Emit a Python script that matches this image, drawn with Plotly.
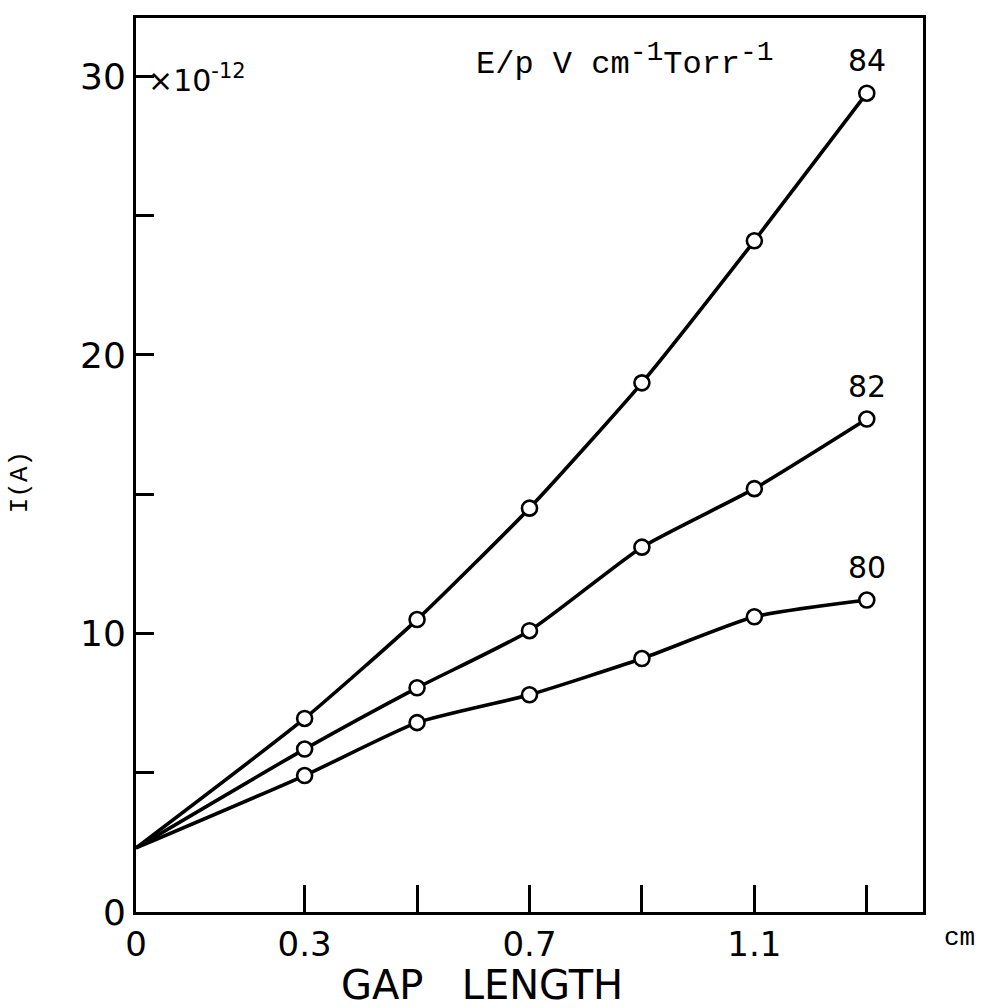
import plotly.graph_objects as go

# Data
gap_cm = [0.3, 0.5, 0.7, 0.9, 1.1, 1.3]
current_84 = [6.95, 10.5, 14.5, 19.0, 24.1, 29.4]
current_82 = [5.85, 8.05, 10.1, 13.1, 15.2, 17.7]
current_80 = [4.9, 6.8, 7.8, 9.1, 10.6, 11.2]
intercept_x = 0.0
intercept_y = 2.3
series_labels = ["84", "82", "80"]

x_tickvals = [0, 0.3, 0.5, 0.7, 0.9, 1.1, 1.3]
x_ticktext = ["0", "0.3", "", "0.7", "", "1.1", ""]
y_tickvals = [0, 5, 10, 15, 20, 25, 30]
y_ticktext = ["0", "", "10", "", "20", "", "30"]

fig = go.Figure()

all_series = [current_84, current_82, current_80]
for label, ys in zip(series_labels, all_series):
    fig.add_trace(go.Scatter(
        x=[intercept_x] + gap_cm, y=[intercept_y] + ys,
        mode="lines", line=dict(color="black", width=3.6, shape="spline", smoothing=0.55),
        showlegend=False, hoverinfo="skip"))
for label, ys in zip(series_labels, all_series):
    fig.add_trace(go.Scatter(
        x=gap_cm, y=ys, mode="markers", name=label,
        marker=dict(symbol="circle", size=15, color="white",
                    line=dict(color="black", width=2.6)),
        showlegend=False))
    fig.add_annotation(x=gap_cm[-1], y=ys[-1], text=label, showarrow=False,
                       yshift=33, font=dict(family="DejaVu Sans", size=30, color="black"))

mono = "Liberation Mono"
sans = "DejaVu Sans"

fig.add_annotation(xref="paper", yref="paper", x=0.4397, y=-0.0817,
                   xanchor="center", yanchor="middle",
                   text="GAP\u00a0\u00a0\u00a0LENGTH", showarrow=False,
                   font=dict(family=sans, size=40, color="black"))
fig.add_annotation(xref="paper", yref="paper", x=1.047, y=-0.029, text="cm",
                   xanchor="center", yanchor="middle",
                   showarrow=False, font=dict(family=mono, size=26, color="black"))
fig.add_annotation(xref="paper", yref="paper", x=-0.147, y=0.481, text="I(A)",
                   xanchor="center", yanchor="middle",
                   textangle=-90, showarrow=False,
                   font=dict(family=mono, size=26, color="black"))
fig.add_annotation(xref="paper", yref="paper", x=0.013, y=0.932, xanchor="left",
                   yanchor="middle",
                   text="×10<sup>-12</sup>", showarrow=False,
                   font=dict(family=sans, size=30, color="black"))
fig.add_annotation(xref="paper", yref="paper", x=0.43, y=0.953, xanchor="left",
                   yanchor="middle",
                   text="E/p V cm<sup><span style='font-size:28px'>-1</span></sup>"
                        "Torr<sup><span style='font-size:28px'>-1</span></sup>",
                   showarrow=False,
                   font=dict(family=mono, size=32, color="black"))

fig.update_xaxes(range=[0, 1.40], tickvals=x_tickvals, ticktext=x_ticktext,
                 ticks="inside", ticklen=27, tickwidth=3, tickcolor="black",
                 showline=True, linewidth=3, linecolor="black", mirror=True,
                 showgrid=False, zeroline=False,
                 tickfont=dict(family=sans, size=34, color="black"))
fig.update_yaxes(range=[0, 32.1], tickvals=y_tickvals, ticktext=y_ticktext,
                 ticks="inside", ticklen=18, tickwidth=3, tickcolor="black",
                 showline=True, linewidth=3, linecolor="black", mirror=True,
                 showgrid=False, zeroline=False, ticklabelstandoff=0,
                 tickfont=dict(family=sans, size=36, color="black"))

fig.update_layout(width=992, height=1008, margin=dict(l=136, r=69, t=18, b=96),
                  paper_bgcolor="white", plot_bgcolor="white")

fig.write_html("out.html")
